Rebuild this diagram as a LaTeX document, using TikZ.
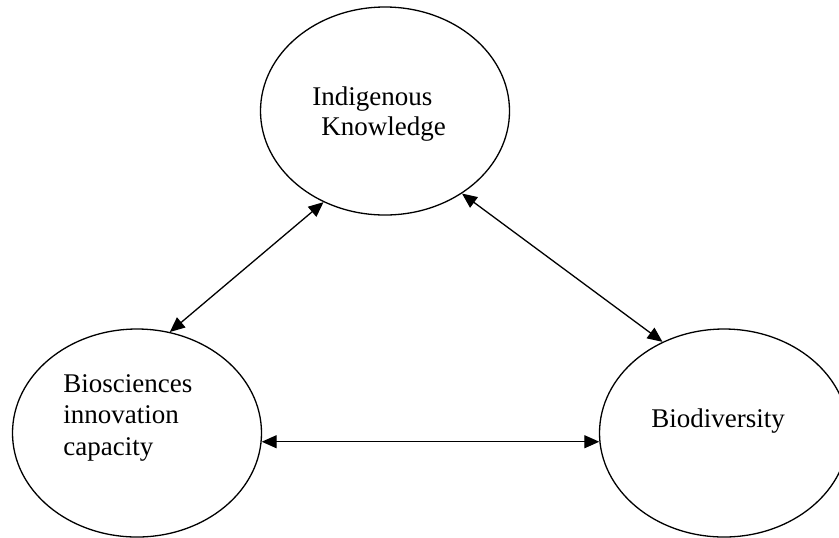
\documentclass[tikz,border=0pt]{standalone}
\usepackage{fontspec}
\setmainfont{Liberation Serif}
\usetikzlibrary{positioning,shapes.geometric,arrows.meta}

\begin{document}
\begin{tikzpicture}[x=0.5pt,y=-0.5pt]
% Draw Concept Triangle
   \useasboundingbox (0,0) rectangle (839,537);
   \begin{scope}[>={Triangle[length=7.5pt,width=6.5pt]},
                  bubble/.style={ellipse,draw,line width=0.65pt,minimum width=124.5pt,minimum height=104pt,inner sep=0pt},
                  word/.style={anchor=base west,inner sep=0pt,font=\fontsize{13.5}{15.75}\selectfont},
                  link/.style={<->,line width=0.65pt} ]
     \node [bubble] (know) at (385,111) {};
     \node [bubble] (bio)  at (137,433) {};
     \node [bubble] (div)  at (724,433) {};
     \node [word] (know1) at (312,105) {Indigenous};
     \node [word] (know2) at (321,135) {Knowledge};
     \node [word] (bio1)  at (63,392)  {Biosciences};
     \node [word] (bio2)  at (63,423)  {innovation};
     \node [word] (bio3)  at (63,455)  {capacity};
     \node [word] (div1)  at (651,427) {Biodiversity};
     \draw [link] (know.236) -- (bio.72);
     \draw [link] (know.313) -- (div.124);
     \draw [link] (bio.356) -- (div.184);
   \end{scope}
\end{tikzpicture}
\end{document}
